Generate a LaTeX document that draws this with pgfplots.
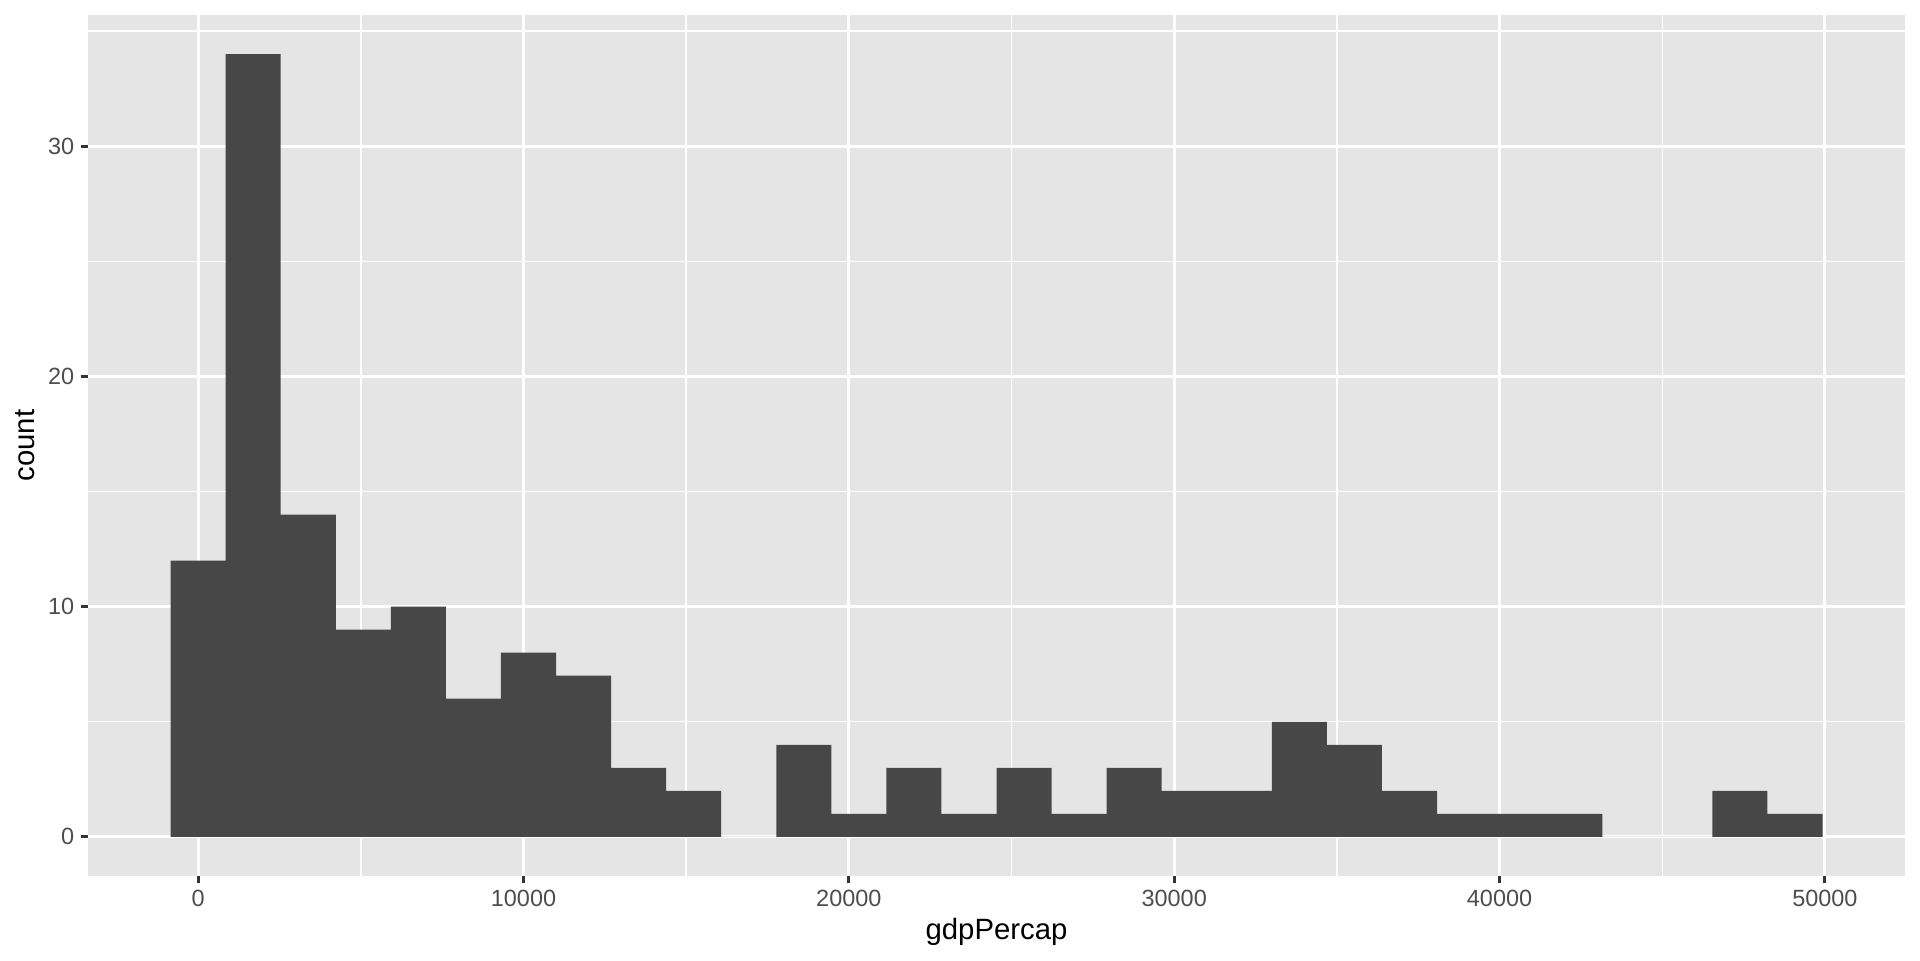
\documentclass[border=0pt]{standalone}
\usepackage{pgfplots}
\pgfplotsset{compat=1.18}
\usepackage{fontspec}
\setmainfont{Liberation Sans}

\definecolor{panelbg}{HTML}{E5E5E5}
\definecolor{barfill}{HTML}{474747}
\definecolor{ticklab}{HTML}{4D4D4D}
\definecolor{tickcol}{HTML}{333333}

\begin{document}
\begin{tikzpicture}
\path[use as bounding box] (0,0) rectangle (720pt,360pt);
\begin{axis}[
  at={(33pt,31.5pt)}, anchor=south west,
  scale only axis,
  width=681.4pt, height=322.9pt,
  xmin=-3384.8, xmax=52464.4,
  ymin=-1.7, ymax=35.7,
  axis background/.style={fill=panelbg},
  axis line style={draw=none},
  xtick={0,10000,20000,30000,40000,50000},
  ytick={0,10,20,30},
  minor xtick={5000,15000,25000,35000,45000},
  minor ytick={5,15,25,35},
  grid=both,
  major grid style={white, line width=1.07pt},
  minor grid style={white, line width=0.53pt},
  tick align=outside,
  xtick pos=bottom, ytick pos=left,
  major tick length=2.75pt,
  minor tick length=0pt,
  every tick/.style={tickcol, line width=1.07pt},
  scaled x ticks=false,
  /pgf/number format/assume math mode=true,
  /pgf/number format/1000 sep={},
  ticklabel style={font=\fontsize{8.8}{10}\selectfont, text=ticklab, inner sep=0pt},
  xticklabel style={anchor=north},
  yticklabel style={anchor=east},
  xticklabel shift=2.2pt,
  yticklabel shift=2.2pt,
  xlabel={gdpPercap},
  ylabel={count},
  label style={font=\fontsize{11}{13}\selectfont, text=black},
  xlabel style={at={(axis description cs:0.5,0)}, anchor=base, yshift=-23.7pt},
  % shift is taken in the rotated frame: +y points left
  ylabel style={at={(axis description cs:0,0.5)}, anchor=base, yshift=20.1pt},
]
\addplot[ybar interval, fill=barfill, draw=none] coordinates {
  (-846.20,12) (846.20,34) (2538.60,14) (4231.00,9) (5923.40,10)
  (7615.80,6) (9308.21,8) (11000.61,7) (12693.01,3) (14385.41,2)
  (16077.81,0) (17770.21,4) (19462.61,1) (21155.01,3) (22847.41,1)
  (24539.81,3) (26232.22,1) (27924.62,3) (29617.02,2) (31309.42,2)
  (33001.82,5) (34694.22,4) (36386.62,2) (38079.02,1) (39771.42,1)
  (41463.82,1) (43156.22,0) (44848.63,0) (46541.03,2) (48233.43,1)
  (49925.83,1)
};
\end{axis}
\end{tikzpicture}
\end{document}
